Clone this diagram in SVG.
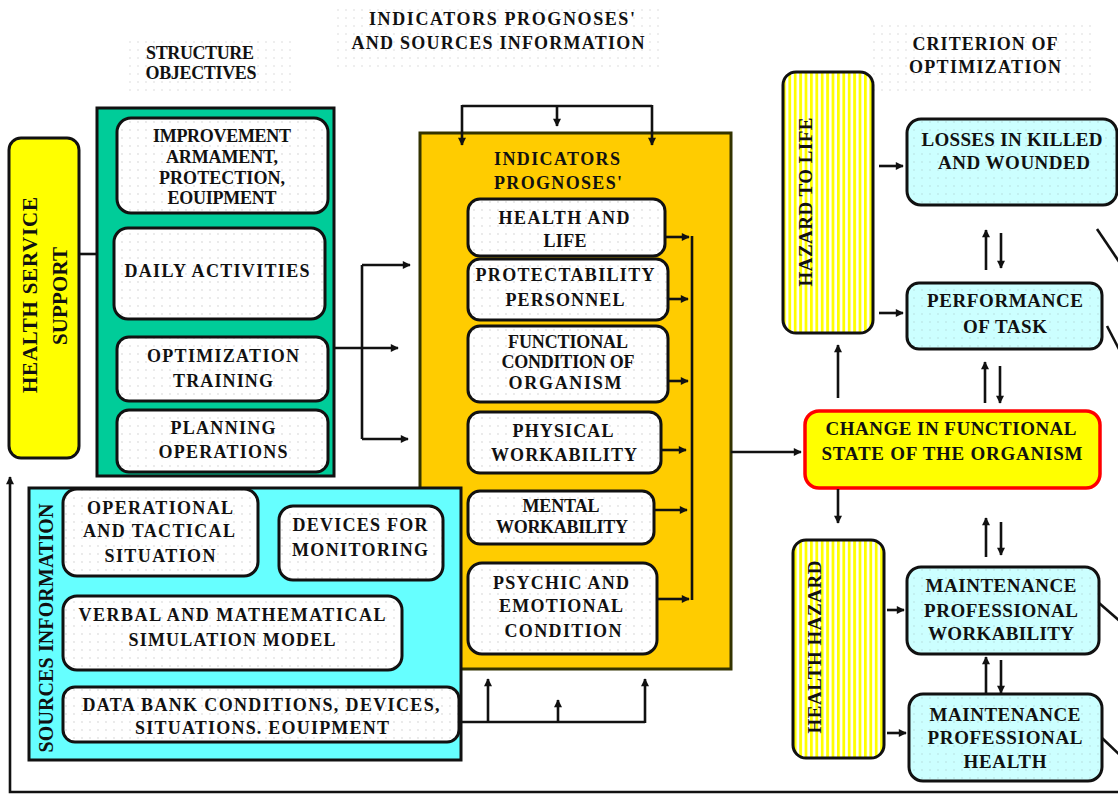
<svg xmlns="http://www.w3.org/2000/svg" width="1118" height="796" viewBox="0 0 1118 796">
<defs>
<style>
text{font-family:"Liberation Serif","Times New Roman",serif;font-weight:bold;fill:#111;text-anchor:middle;}
.t{font-size:18px;}
.r{font-size:19px;}
.v{font-size:20px;}
.h{font-size:18px;}
.box{stroke:#111;stroke-width:3;}
.wbox{fill:url(#wdots);stroke:#111;stroke-width:3;}
.cbox{fill:url(#cdots);stroke:#111;stroke-width:3;}
.ln{fill:none;stroke:#111;stroke-width:2.6;}
.la{fill:none;stroke:#111;stroke-width:2.6;marker-end:url(#ah);}
</style>
<pattern id="wdots" width="8" height="8" patternUnits="userSpaceOnUse"><rect width="8" height="8" fill="#fff"/><circle cx="2" cy="2" r="0.7" fill="#c8c8c8"/></pattern>
<pattern id="cdots" width="8" height="8" patternUnits="userSpaceOnUse"><rect width="8" height="8" fill="#ccffff"/><circle cx="2" cy="2" r="0.7" fill="#b0d8d8"/></pattern>
<pattern id="hdots" width="8" height="8" patternUnits="userSpaceOnUse"><circle cx="2" cy="2" r="0.7" fill="#d0d0d0"/></pattern>
<pattern id="stripes" width="5.4" height="10" patternUnits="userSpaceOnUse"><rect width="5.4" height="10" fill="#fff"/><rect width="2.8" height="10" fill="#ffff00"/></pattern>
<marker id="ah" viewBox="0 0 10 10" refX="9" refY="5" markerWidth="9" markerHeight="8" markerUnits="userSpaceOnUse" orient="auto"><path d="M0,0 L10,5 L0,10 z" fill="#111"/></marker>
</defs>
<rect width="1118" height="796" fill="#fff"/>

<g id="headers">
<rect x="128" y="38" width="164" height="56" fill="url(#hdots)"/>
<rect x="333" y="3" width="330" height="66" fill="url(#hdots)"/>
<rect x="873" y="22" width="218" height="70" fill="url(#hdots)"/>
<text class="h" x="200" y="59" textLength="108">STRUCTURE</text>
<text class="h" x="201" y="79" textLength="111">OBJECTIVES</text>
<text class="h" x="502" y="25" textLength="266">INDICATORS PROGNOSES'</text>
<text class="h" x="498" y="49" textLength="293">AND SOURCES INFORMATION</text>
<text class="h" x="985" y="50" textLength="145">CRITERION OF</text>
<text class="h" x="985" y="73" textLength="152">OPTIMIZATION</text>
</g>

<g id="health-service-support">
<rect class="box" x="9" y="138" width="70" height="320" rx="12" fill="#ffff00"/>
<text class="v" style="font-size:21px" transform="translate(37,295) rotate(-90)" textLength="196">HEALTH SERVICE</text>
<text class="v" style="font-size:21px" transform="translate(67,296) rotate(-90)" textLength="98">SUPPORT</text>
</g>

<g id="structure-objectives">
<rect class="box" x="97" y="108" width="237" height="368" fill="#00cc99"/>
<g id="improvement">
<rect class="wbox" x="117" y="118" width="211" height="95" rx="14"/>
<text class="t" x="222" y="142" textLength="138">IMPROVEMENT</text>
<text class="t" x="222" y="163" textLength="112">ARMAMENT,</text>
<text class="t" x="222" y="184" textLength="126">PROTECTION,</text>
<text class="t" x="222" y="204" textLength="109">EOUIPMENT</text>
</g>
<g id="daily">
<rect class="wbox" x="114" y="228" width="211" height="91" rx="14"/>
<text class="t" x="217" y="277" textLength="185">DAILY ACTIVITIES</text>
</g>
<g id="optimization">
<rect class="wbox" x="117" y="337" width="211" height="64" rx="12"/>
<text class="t" x="223" y="362" textLength="152">OPTIMIZATION</text>
<text class="t" x="223" y="387" textLength="100">TRAINING</text>
</g>
<g id="planning">
<rect class="wbox" x="117" y="410" width="211" height="62" rx="12"/>
<text class="t" x="223" y="434" textLength="105">PLANNING</text>
<text class="t" x="223" y="458" textLength="129">OPERATIONS</text>
</g>
</g>

<g id="indicators-prognoses">
<rect x="420" y="133" width="311" height="536" fill="#ffcc00" stroke="#333300" stroke-width="3"/>
<text class="t" x="557" y="165" textLength="126">INDICATORS</text>
<text class="t" x="558" y="189" textLength="128">PROGNOSES'</text>
<g id="health-life">
<rect class="wbox" x="468" y="199" width="197" height="57" rx="12"/>
<text class="t" x="564" y="224" textLength="131">HEALTH AND</text>
<text class="t" x="565" y="247" textLength="43">LIFE</text>
</g>
<g id="protectability">
<rect class="wbox" x="468" y="259" width="200" height="61" rx="12"/>
<text class="t" x="565" y="281" textLength="179">PROTECTABILITY</text>
<text class="t" x="565" y="306" textLength="119">PERSONNEL</text>
</g>
<g id="functional">
<rect class="wbox" x="468" y="326" width="200" height="76" rx="12"/>
<text class="t" x="568" y="348" textLength="120">FUNCTIONAL</text>
<text class="t" x="568" y="368" textLength="133">CONDITION OF</text>
<text class="t" x="565" y="389" textLength="113">ORGANISM</text>
</g>
<g id="physical">
<rect class="wbox" x="468" y="412" width="193" height="61" rx="12"/>
<text class="t" x="563" y="437" textLength="101">PHYSICAL</text>
<text class="t" x="564" y="461" textLength="146">WORKABILITY</text>
</g>
<g id="mental">
<rect class="wbox" x="468" y="491" width="186" height="53" rx="12"/>
<text class="t" x="561" y="512" textLength="77">MENTAL</text>
<text class="t" x="562" y="533" textLength="132">WORKABILITY</text>
</g>
<g id="psychic">
<rect class="wbox" x="468" y="563" width="189" height="91" rx="14"/>
<text class="t" x="561" y="589" textLength="136">PSYCHIC AND</text>
<text class="t" x="561" y="612" textLength="124">EMOTIONAL</text>
<text class="t" x="563" y="637" textLength="117">CONDITION</text>
</g>
</g>

<g id="sources-information">
<rect class="box" x="29" y="488" width="432" height="272" fill="#66ffff"/>
<text class="v" transform="translate(53,628) rotate(-90)" textLength="249">SOURCES INFORMATION</text>
<g id="operational">
<rect class="wbox" x="63" y="489" width="195" height="87" rx="14"/>
<text class="t" x="160" y="514" textLength="146">OPERATIONAL</text>
<text class="t" x="159" y="537" textLength="152">AND TACTICAL</text>
<text class="t" x="160" y="562" textLength="111">SITUATION</text>
</g>
<g id="devices">
<rect class="wbox" x="279" y="506" width="164" height="74" rx="14"/>
<text class="t" x="360" y="531" textLength="135">DEVICES FOR</text>
<text class="t" x="360" y="556" textLength="136">MONITORING</text>
</g>
<g id="verbal">
<rect class="wbox" x="63" y="596" width="339" height="74" rx="14"/>
<text class="t" x="232" y="621" textLength="307">VERBAL AND MATHEMATICAL</text>
<text class="t" x="232" y="646" textLength="207">SIMULATION MODEL</text>
</g>
<g id="databank">
<rect class="wbox" x="63" y="687" width="396" height="55" rx="12"/>
<text class="t" x="261" y="711" textLength="357">DATA BANK CONDITIONS, DEVICES,</text>
<text class="t" x="262" y="734" textLength="254">SITUATIONS. EOUIPMENT</text>
</g>
</g>

<g id="hazard-to-life">
<rect class="box" x="783" y="72" width="90" height="261" rx="13" fill="url(#stripes)"/>
<text class="r" transform="translate(812,202) rotate(-90)" textLength="169">HAZARD TO LIFE</text>
</g>

<g id="losses">
<rect class="cbox" x="907" y="119" width="210" height="86" rx="14"/>
<text class="r" x="1012" y="146" textLength="181">LOSSES IN KILLED</text>
<text class="r" x="1014" y="169" textLength="152">AND WOUNDED</text>
</g>

<g id="performance">
<rect class="cbox" x="907" y="283" width="195" height="66" rx="12"/>
<text class="r" x="1005" y="307" textLength="156">PERFORMANCE</text>
<text class="r" x="1005" y="333" textLength="84">OF TASK</text>
</g>

<g id="change">
<rect x="805" y="411" width="295" height="77" rx="14" fill="#ffff00" stroke="#ff0000" stroke-width="3.5"/>
<text class="r" x="951" y="435" textLength="251">CHANGE IN FUNCTIONAL</text>
<text class="r" x="952" y="460" textLength="261">STATE OF THE ORGANISM</text>
</g>

<g id="health-hazard">
<rect class="box" x="793" y="540" width="91" height="218" rx="13" fill="url(#stripes)"/>
<text class="r" transform="translate(821,647) rotate(-90)" textLength="173">HEALTH HAZARD</text>
</g>

<g id="maint-workability">
<rect class="cbox" x="907" y="567" width="192" height="87" rx="14"/>
<text class="r" x="1001" y="592" textLength="151">MAINTENANCE</text>
<text class="r" x="1001" y="617" textLength="154">PROFESSIONAL</text>
<text class="r" x="1001" y="640" textLength="146">WORKABILITY</text>
</g>

<g id="maint-health">
<rect class="cbox" x="909" y="694" width="193" height="87" rx="14"/>
<text class="r" x="1005" y="721" textLength="151">MAINTENANCE</text>
<text class="r" x="1005" y="744" textLength="155">PROFESSIONAL</text>
<text class="r" x="1005" y="768" textLength="83">HEALTH</text>
</g>

<g id="connectors">
<path class="ln" d="M80,254 H97"/>
<path class="la" d="M334,348 H398"/>
<path class="ln" d="M362,265 V439"/>
<path class="la" d="M362,265 H410"/>
<path class="la" d="M362,439 H408"/>
<path class="ln" d="M462,106 H652"/>
<path class="la" d="M462,105 V145"/>
<path class="la" d="M652,105 V145"/>
<path class="la" d="M557,106 V126"/>
<path class="ln" d="M461,722 H645"/>
<path class="la" d="M488,723 V679"/>
<path class="la" d="M645,723 V679"/>
<path class="la" d="M558,722 V700"/>
<path class="la" d="M1118,792 H10 V477"/>
<path class="ln" d="M692,236 V600"/>
<path class="la" d="M665,237 H689"/>
<path class="la" d="M668,299 H688"/>
<path class="la" d="M668,381 H688"/>
<path class="la" d="M661,450 H686"/>
<path class="la" d="M654,510 H687"/>
<path class="la" d="M657,599 H689"/>
<path class="la" d="M731,452 H801"/>
<path class="la" d="M879,166 H903"/>
<path class="la" d="M879,313 H903"/>
<path class="la" d="M838,398 V345"/>
<path class="la" d="M838,489 V523"/>
<path class="la" d="M887,610 H904"/>
<path class="la" d="M887,733 H906"/>
<path class="la" d="M986,270 V230"/>
<path class="la" d="M1001,233 V268"/>
<path class="la" d="M985,403 V362"/>
<path class="la" d="M1000,366 V403"/>
<path class="la" d="M986,557 V518"/>
<path class="la" d="M1001,522 V555"/>
<path class="la" d="M986,694 V657"/>
<path class="la" d="M1001,660 V693"/>
<path class="ln" d="M1097,229 L1122,266"/>
<path class="ln" d="M1107,326 L1122,355"/>
<path class="ln" d="M1099,603 L1122,623"/>
<path class="ln" d="M1102,738 L1122,757"/>
</g>
</svg>
